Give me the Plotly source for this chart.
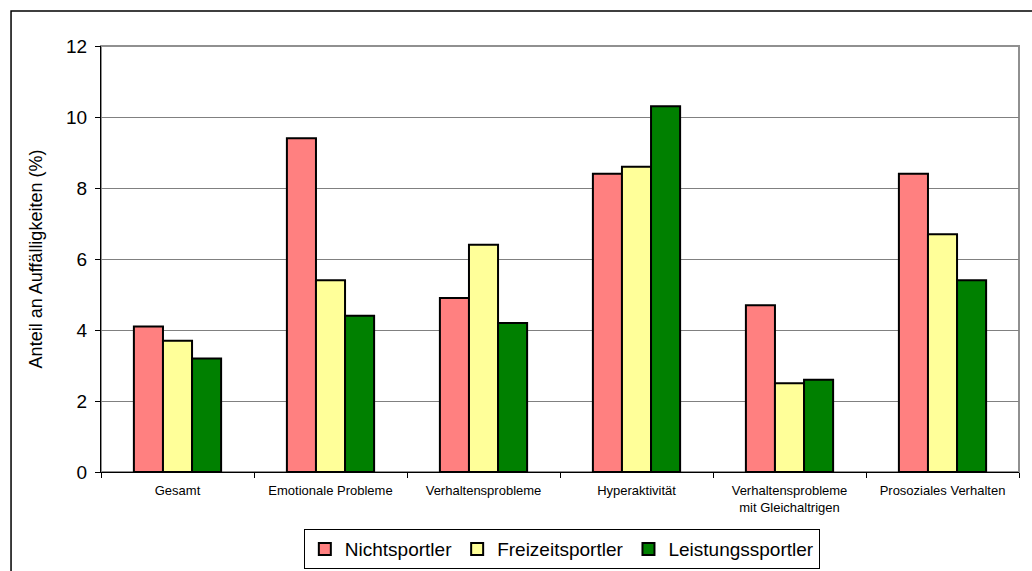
import plotly.graph_objects as go

categories = [
    "Gesamt",
    "Emotionale Probleme",
    "Verhaltensprobleme",
    "Hyperaktivität",
    "Verhaltensprobleme<br>mit Gleichaltrigen",
    "Prosoziales Verhalten",
]
nichtsportler = [4.1, 9.4, 4.9, 8.4, 4.7, 8.4]
freizeitsportler = [3.7, 5.4, 6.4, 8.6, 2.5, 6.7]
leistungssportler = [3.2, 4.4, 4.2, 10.3, 2.6, 5.4]

series = [
    ("Nichtsportler", nichtsportler, "#FF8080"),
    ("Freizeitsportler", freizeitsportler, "#FFFF99"),
    ("Leistungssportler", leistungssportler, "#008000"),
]

fig = go.Figure()
for name, vals, color in series:
    fig.add_trace(go.Bar(
        x=categories, y=vals, name=name,
        marker=dict(color=color, line=dict(color="black", width=2)),
    ))

fig.update_layout(
    width=1032, height=571,
    margin=dict(l=101, r=13, t=46, b=99, autoexpand=False),
    paper_bgcolor="white", plot_bgcolor="white",
    font=dict(family="Arial, Liberation Sans, sans-serif", color="black"),
    barmode="group", bargap=0.43, bargroupgap=0,
    showlegend=True,
    legend=dict(
        orientation="h", x=0.502, xanchor="center", y=-0.134, yanchor="top",
        font=dict(size=19), bordercolor="black", borderwidth=1,
        bgcolor="white", itemwidth=30, tracegroupgap=0,
    ),
    xaxis=dict(
        tickson="boundaries", ticks="outside", ticklen=5, tickcolor="black",
        showline=True, linecolor="black", linewidth=1,
        tickfont=dict(size=13), showgrid=False, fixedrange=True,
        ticklabelstandoff=6,
    ),
    yaxis=dict(
        range=[0, 12], dtick=2, ticks="outside", ticklen=5, tickcolor="black",
        showline=True, linecolor="black", linewidth=1,
        showgrid=True, gridcolor="#808080", gridwidth=1,
        zeroline=False, tickfont=dict(size=19), ticklabelstandoff=4,
        title=dict(text="Anteil an Auffälligkeiten (%)", font=dict(size=18), standoff=18),
    ),
    shapes=[
        # plot area border (grey)
        dict(type="rect", xref="paper", yref="paper", x0=0, y0=0, x1=1, y1=1,
             line=dict(color="#909090", width=2), layer="below"),
        # outer chart frame
        dict(type="rect", xref="paper", yref="paper", x0=-0.098, y0=-0.3, x1=1.05, y1=1.082,
             line=dict(color="black", width=1.5), layer="below"),
    ],
)

fig.write_html("out.html")
